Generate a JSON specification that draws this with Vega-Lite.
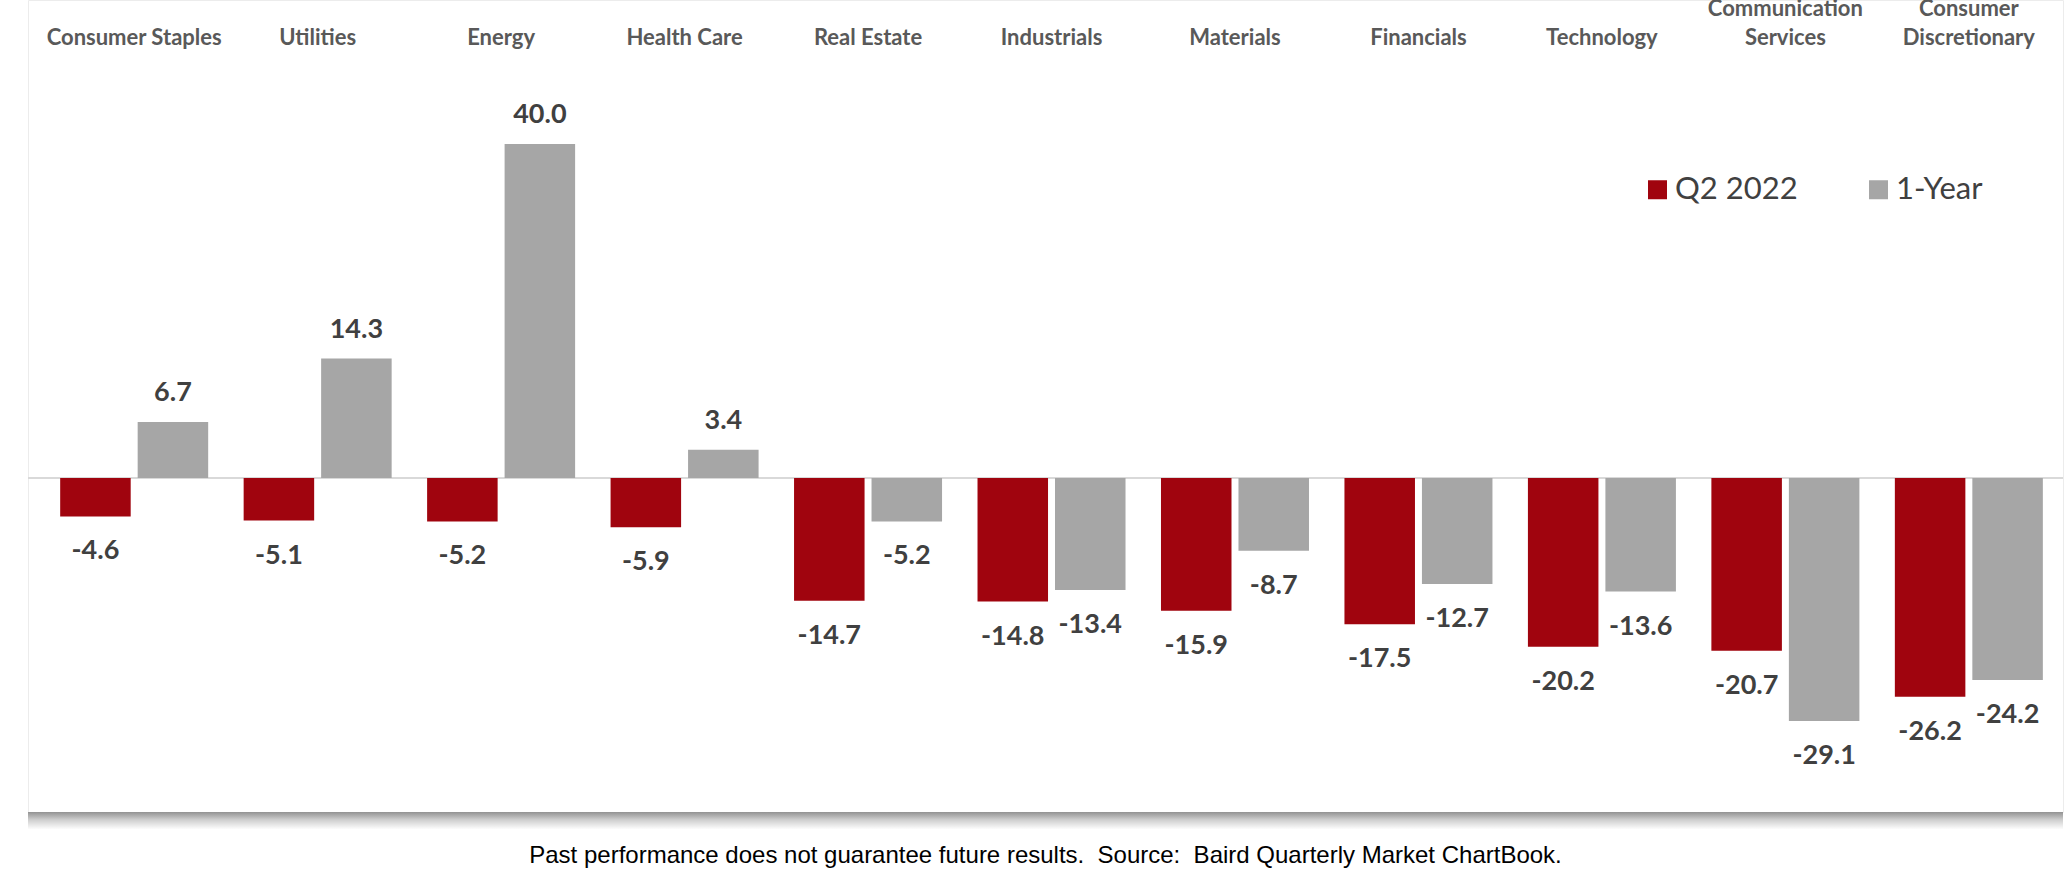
{
  "$schema": "https://vega.github.io/schema/vega-lite/v6.json",
  "autosize": {"type": "none"},
  "padding": {"left": 28, "top": 0, "right": 1, "bottom": 62},
  "width": 2035,
  "height": 812,
  "background": "white",
  "config": {
    "view": {"stroke": "#ececec", "strokeWidth": 1},
    "locale": {"number": {"decimal": ".", "thousands": ",", "grouping": [3], "currency": ["$", ""], "minus": "-"}}
  },
  "title": {
    "text": "Past performance does not guarantee future results.\u00a0 Source:\u00a0 Baird Quarterly Market ChartBook.",
    "orient": "bottom",
    "anchor": "middle",
    "offset": 14,
    "baseline": "top",
    "font": "Liberation Sans",
    "fontSize": 24,
    "fontWeight": "normal",
    "color": "#000000"
  },
  "data": {
    "values": [
      {"sector": "Consumer Staples", "period": "Q2 2022", "value": -4.6},
      {"sector": "Consumer Staples", "period": "1-Year", "value": 6.7},
      {"sector": "Utilities", "period": "Q2 2022", "value": -5.1},
      {"sector": "Utilities", "period": "1-Year", "value": 14.3},
      {"sector": "Energy", "period": "Q2 2022", "value": -5.2},
      {"sector": "Energy", "period": "1-Year", "value": 40.0},
      {"sector": "Health Care", "period": "Q2 2022", "value": -5.9},
      {"sector": "Health Care", "period": "1-Year", "value": 3.4},
      {"sector": "Real Estate", "period": "Q2 2022", "value": -14.7},
      {"sector": "Real Estate", "period": "1-Year", "value": -5.2},
      {"sector": "Industrials", "period": "Q2 2022", "value": -14.8},
      {"sector": "Industrials", "period": "1-Year", "value": -13.4},
      {"sector": "Materials", "period": "Q2 2022", "value": -15.9},
      {"sector": "Materials", "period": "1-Year", "value": -8.7},
      {"sector": "Financials", "period": "Q2 2022", "value": -17.5},
      {"sector": "Financials", "period": "1-Year", "value": -12.7},
      {"sector": "Technology", "period": "Q2 2022", "value": -20.2},
      {"sector": "Technology", "period": "1-Year", "value": -13.6},
      {"sector": "Communication Services", "period": "Q2 2022", "value": -20.7},
      {"sector": "Communication Services", "period": "1-Year", "value": -29.1},
      {"sector": "Consumer Discretionary", "period": "Q2 2022", "value": -26.2},
      {"sector": "Consumer Discretionary", "period": "1-Year", "value": -24.2}
    ]
  },
  "layer": [
    {
      "data": {"values": [{}]},
      "mark": {"type": "rect", "clip": false, "fill": {"gradient": "linear", "x1": 0, "y1": 0, "x2": 0, "y2": 1, "stops": [{"offset": 0, "color": "#929292"}, {"offset": 0.45, "color": "#cfcfcf"}, {"offset": 1, "color": "#ffffff"}]}},
      "encoding": {
        "x": {"value": 0},
        "x2": {"value": "width"},
        "y": {"datum": -40, "type": "quantitative", "scale": {"domain": [-40, 57.25], "nice": false, "zero": false}, "axis": null},
        "y2": {"datum": -42.1}
      }
    },
    {
      "data": {"values": [{}]},
      "mark": {"type": "rule", "color": "#d9d9d9", "strokeWidth": 2},
      "encoding": {
        "y": {"datum": 0, "type": "quantitative"}
      }
    },
    {
      "mark": {"type": "bar"},
      "encoding": {
        "x": {
          "field": "sector", "type": "nominal", "sort": null,
          "scale": {"paddingInner": 0.1933, "paddingOuter": 0.1426, "align": 0.615},
          "axis": {
            "orient": "top", "title": null, "offset": -20, "domain": false, "ticks": false, "tickSize": 0,
            "labelPadding": 0, "labelAngle": 0, "labelFont": "Lato", "labelFontWeight": "bold", "labelFontSize": 22,
            "labelColor": "#595959", "labelLineHeight": 29, "labelBaseline": "bottom",
            "labelExpr": "datum.label == 'Communication Services' ? ['Communication', 'Services'] : datum.label == 'Consumer Discretionary' ? ['Consumer', 'Discretionary'] : ['', datum.label]"
          }
        },
        "xOffset": {"field": "period", "type": "nominal", "sort": ["Q2 2022", "1-Year"], "scale": {"paddingInner": 0.09, "paddingOuter": 0}},
        "y": {"field": "value", "type": "quantitative"},
        "color": {
          "field": "period", "type": "nominal",
          "scale": {"domain": ["Q2 2022", "1-Year"], "range": ["#a0040e", "#a6a6a6"]},
          "legend": {
            "title": null, "orient": "none", "legendX": 1614, "legendY": 174, "direction": "horizontal", "columns": 2,
            "columnPadding": 65, "symbolType": "square", "symbolSize": 361, "symbolStrokeWidth": 0, "labelOffset": 2,
            "labelFont": "Lato", "labelFontSize": 31, "labelColor": "#404040", "padding": 0
          }
        }
      }
    },
    {
      "transform": [{"filter": "datum.value >= 0"}],
      "mark": {"type": "text", "baseline": "alphabetic", "dy": -21, "font": "Lato", "fontWeight": "bold", "fontSize": 27, "color": "#404040"},
      "encoding": {
        "x": {"field": "sector", "type": "nominal", "sort": null},
        "xOffset": {"field": "period", "type": "nominal", "sort": ["Q2 2022", "1-Year"]},
        "y": {"field": "value", "type": "quantitative"},
        "text": {"field": "value", "type": "quantitative", "format": ".1f"}
      }
    },
    {
      "transform": [{"filter": "datum.value < 0"}],
      "mark": {"type": "text", "baseline": "alphabetic", "dy": 43, "font": "Lato", "fontWeight": "bold", "fontSize": 27, "color": "#404040"},
      "encoding": {
        "x": {"field": "sector", "type": "nominal", "sort": null},
        "xOffset": {"field": "period", "type": "nominal", "sort": ["Q2 2022", "1-Year"]},
        "y": {"field": "value", "type": "quantitative"},
        "text": {"field": "value", "type": "quantitative", "format": ".1f"}
      }
    }
  ]
}
